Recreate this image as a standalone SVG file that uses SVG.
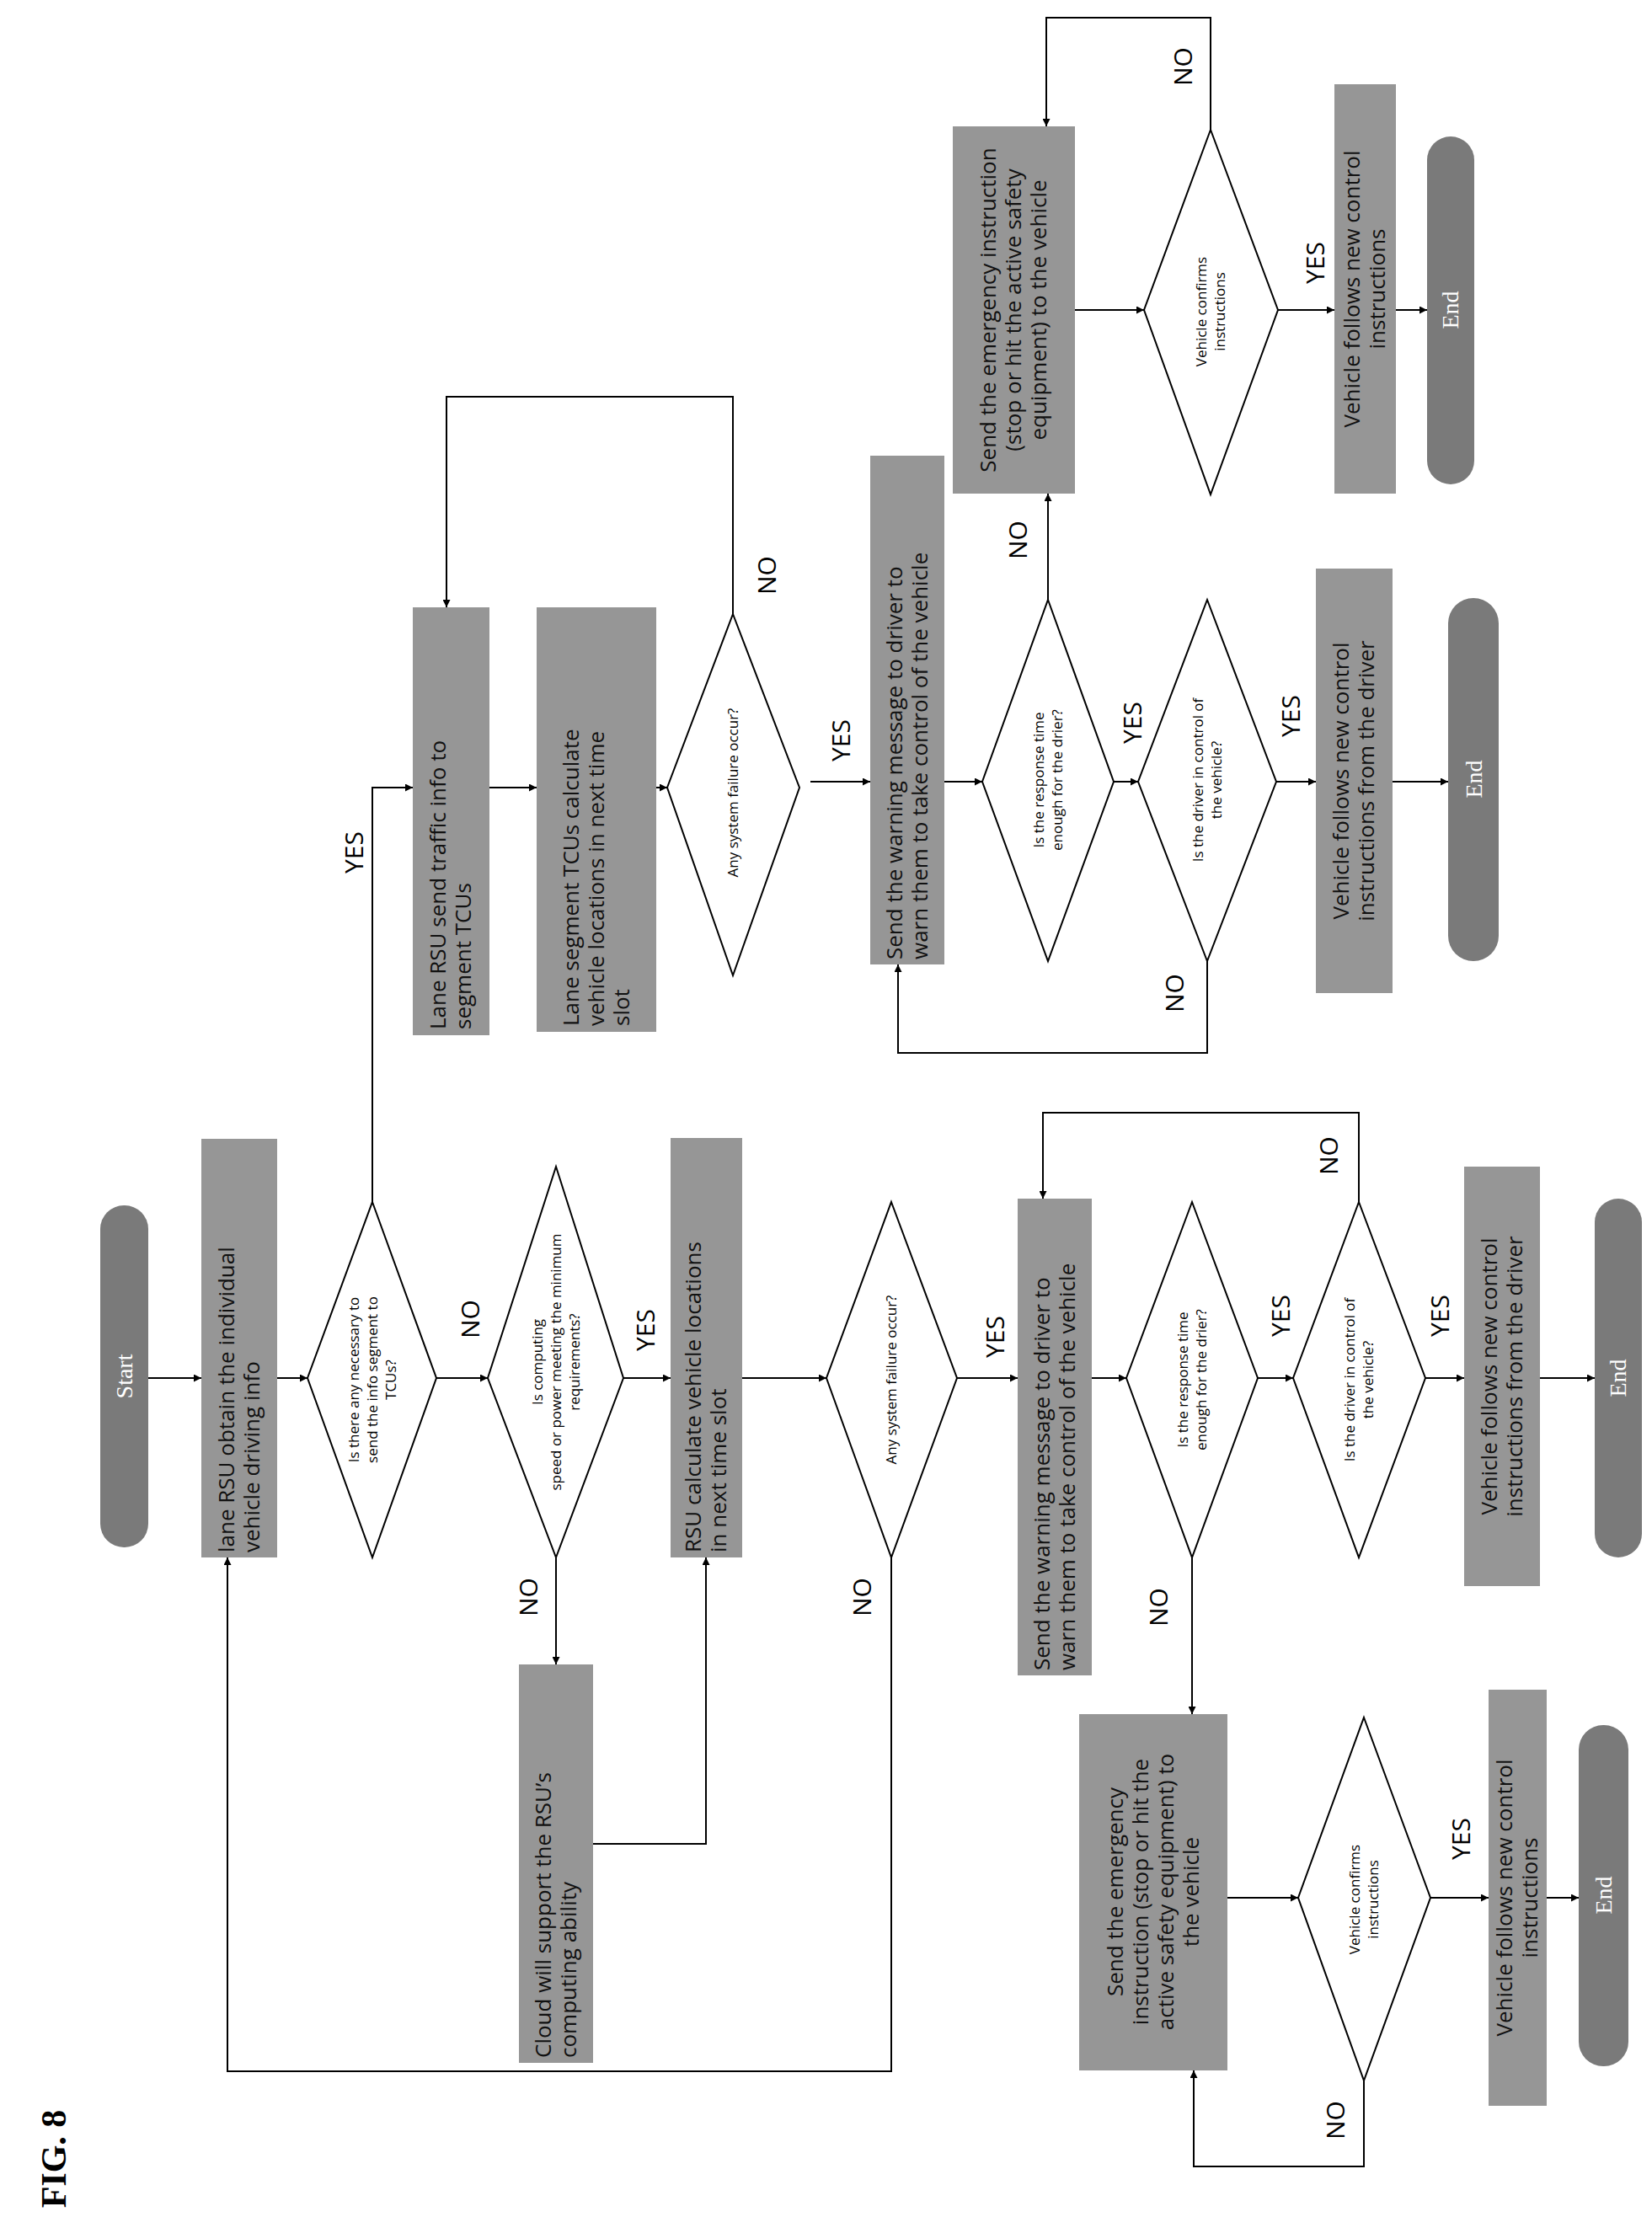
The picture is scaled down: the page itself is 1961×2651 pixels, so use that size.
<svg xmlns="http://www.w3.org/2000/svg" width="1961" height="2651" viewBox="0 0 1961 2651">
<defs>
<marker id="ar" viewBox="0 0 10 10" refX="10" refY="5" markerWidth="9" markerHeight="9" markerUnits="userSpaceOnUse" orient="auto"><path d="M0,0 L10,5 L0,10 z" fill="#000"/></marker>
<style>
.box{fill:#969696}
.pill{fill:#7a7a7a}
.dia{fill:#fff;stroke:#000;stroke-width:2}
.bt{font-family:"Open Sans","DejaVu Sans",sans-serif;font-size:26px;fill:#111}
.dt{font-family:"Open Sans","DejaVu Sans",sans-serif;font-size:17px;fill:#000;text-anchor:middle}
.pt{font-family:"Liberation Serif",serif;font-size:28px;fill:#fff;text-anchor:middle}
.lb{font-family:"Open Sans","DejaVu Sans",sans-serif;font-size:30px;fill:#000;text-anchor:middle}
.mid{text-anchor:middle}
.c{fill:none;stroke:#000;stroke-width:2}
.ca{fill:none;stroke:#000;stroke-width:2;marker-end:url(#ar)}
</style>
</defs>
<rect width="1961" height="2651" fill="#fff"/>
<text transform="translate(78,2563) rotate(-90)" style="font-family:'Liberation Serif',serif;font-size:42px;font-weight:bold" text-anchor="middle">FIG. 8</text>

<g id="connectors">
<path class="ca" d="M176,1636 H239"/>
<path class="ca" d="M329,1636 H365"/>
<path class="ca" d="M518,1636 H579"/>
<path class="ca" d="M740,1636 H796"/>
<path class="ca" d="M881,1636 H981"/>
<path class="ca" d="M1136,1636 H1208"/>
<path class="ca" d="M1296,1636 H1337"/>
<path class="ca" d="M1493,1636 H1535"/>
<path class="ca" d="M1692,1636 H1738"/>
<path class="ca" d="M1828,1636 H1893"/>
<path class="ca" d="M660,1849 V1976"/>
<path class="ca" d="M704,2189 H838 V1849"/>
<path class="ca" d="M1058,1849 V2459 H270 V1849"/>
<path class="ca" d="M1415,1849 V2035"/>
<path class="ca" d="M1613,1427 V1321 H1238 V1423"/>
<path class="ca" d="M1457,2253 H1541"/>
<path class="ca" d="M1698,2253 H1767"/>
<path class="ca" d="M1836,2253 H1874"/>
<path class="ca" d="M1619,2470 V2572 H1417 V2458"/>
<path class="ca" d="M442,1427 V935 H490"/>
<path class="ca" d="M581,935 H637"/>
<path class="ca" d="M779,935 H792"/>
<path class="ca" d="M870,729 V471 H530 V721"/>
<path class="ca" d="M962,928 H1033"/>
<path class="ca" d="M1121,928 H1166"/>
<path class="ca" d="M1322,928 H1351"/>
<path class="ca" d="M1515,928 H1562"/>
<path class="ca" d="M1653,928 H1719"/>
<path class="ca" d="M1433,1141 V1250 H1066 V1145"/>
<path class="ca" d="M1244,712 V586"/>
<path class="ca" d="M1276,368 H1358"/>
<path class="ca" d="M1517,368 H1584"/>
<path class="ca" d="M1657,368 H1694"/>
<path class="ca" d="M1437,154 V21 H1242 V150"/>
<g class="lb">
<text transform="translate(569,1566) rotate(-90)">NO</text>
<text transform="translate(777,1579) rotate(-90)">YES</text>
<text transform="translate(638,1896) rotate(-90)">NO</text>
<text transform="translate(1034,1896) rotate(-90)">NO</text>
<text transform="translate(1192,1587) rotate(-90)">YES</text>
<text transform="translate(1531,1562) rotate(-90)">YES</text>
<text transform="translate(1720,1562) rotate(-90)">YES</text>
<text transform="translate(1386,1908) rotate(-90)">NO</text>
<text transform="translate(1588,1372) rotate(-90)">NO</text>
<text transform="translate(1745,2183) rotate(-90)">YES</text>
<text transform="translate(1596,2517) rotate(-90)">NO</text>
<text transform="translate(431,1012) rotate(-90)">YES</text>
<text transform="translate(921,683) rotate(-90)">NO</text>
<text transform="translate(1009,879) rotate(-90)">YES</text>
<text transform="translate(1355,858) rotate(-90)">YES</text>
<text transform="translate(1543,850) rotate(-90)">YES</text>
<text transform="translate(1405,1179) rotate(-90)">NO</text>
<text transform="translate(1219,641) rotate(-90)">NO</text>
<text transform="translate(1415,79) rotate(-90)">NO</text>
<text transform="translate(1572,312) rotate(-90)">YES</text>
</g>
</g>

<g id="start"><rect class="pill" x="119" y="1431" width="57" height="406" rx="28"/><text class="pt" transform="translate(157,1634) rotate(-90)">Start</text></g>
<g id="lane-obtain"><rect class="box" x="239" y="1352" width="90" height="497"/>
<text class="bt" transform="translate(278,1843) rotate(-90)">lane RSU obtain the individual</text>
<text class="bt" transform="translate(308,1843) rotate(-90)">vehicle driving info</text></g>
<g id="d1"><polygon class="dia" points="442,1427 518,1636 442,1849 365,1636"/>
<text class="dt" transform="translate(426,1638) rotate(-90)">Is there any necessary to</text>
<text class="dt" transform="translate(448,1638) rotate(-90)">send the info segment to</text>
<text class="dt" transform="translate(470,1638) rotate(-90)">TCUs?</text></g>
<g id="d2"><polygon class="dia" points="660,1385 740,1636 660,1849 579,1636"/>
<text class="dt" transform="translate(644,1617) rotate(-90)">Is computing</text>
<text class="dt" transform="translate(666,1617) rotate(-90)">speed or power meeting the minimum</text>
<text class="dt" transform="translate(688,1617) rotate(-90)">requirements?</text></g>
<g id="rsu-calc"><rect class="box" x="796" y="1351" width="85" height="498"/>
<text class="bt" transform="translate(832,1843) rotate(-90)">RSU calculate vehicle locations</text>
<text class="bt" transform="translate(862,1843) rotate(-90)">in next time slot</text></g>
<g id="cloud"><rect class="box" x="616" y="1976" width="88" height="473"/>
<text class="bt" transform="translate(654,2443) rotate(-90)">Cloud will support the RSU’s</text>
<text class="bt" transform="translate(684,2443) rotate(-90)">computing ability</text></g>
<g id="d3"><polygon class="dia" points="1058,1427 1136,1636 1058,1849 981,1636"/>
<text class="dt" transform="translate(1064,1638) rotate(-90)">Any system failure occur?</text></g>
<g id="warn1"><rect class="box" x="1208" y="1423" width="88" height="566"/>
<text class="bt" transform="translate(1246,1983) rotate(-90)">Send the warning message to driver to</text>
<text class="bt" transform="translate(1276,1983) rotate(-90)">warn them to take control of the vehicle</text></g>
<g id="d4"><polygon class="dia" points="1415,1427 1493,1636 1415,1849 1337,1636"/>
<text class="dt" transform="translate(1410,1638) rotate(-90)">Is the response time</text>
<text class="dt" transform="translate(1432,1638) rotate(-90)">enough for the drier?</text></g>
<g id="d5"><polygon class="dia" points="1613,1427 1692,1636 1613,1849 1535,1636"/>
<text class="dt" transform="translate(1608,1638) rotate(-90)">Is the driver in control of</text>
<text class="dt" transform="translate(1630,1638) rotate(-90)">the vehicle?</text></g>
<g id="follows1"><rect class="box" x="1738" y="1385" width="90" height="498"/>
<text class="bt mid" transform="translate(1777,1634) rotate(-90)">Vehicle follows new control</text>
<text class="bt mid" transform="translate(1807,1634) rotate(-90)">instructions from the driver</text></g>
<g id="end1"><rect class="pill" x="1893" y="1423" width="56" height="426" rx="28"/><text class="pt" transform="translate(1930,1636) rotate(-90)">End</text></g>
<g id="emerg1"><rect class="box" x="1281" y="2035" width="176" height="423"/>
<text class="bt mid" transform="translate(1333,2246) rotate(-90)">Send the emergency</text>
<text class="bt mid" transform="translate(1363,2246) rotate(-90)">instruction (stop or hit the</text>
<text class="bt mid" transform="translate(1393,2246) rotate(-90)">active safety equipment) to</text>
<text class="bt mid" transform="translate(1423,2246) rotate(-90)">the vehicle</text></g>
<g id="d6"><polygon class="dia" points="1619,2039 1698,2253 1619,2470 1541,2253"/>
<text class="dt" transform="translate(1614,2255) rotate(-90)">Vehicle confirms</text>
<text class="dt" transform="translate(1636,2255) rotate(-90)">instructions</text></g>
<g id="follows2"><rect class="box" x="1767" y="2006" width="69" height="494"/>
<text class="bt mid" transform="translate(1795,2253) rotate(-90)">Vehicle follows new control</text>
<text class="bt mid" transform="translate(1825,2253) rotate(-90)">instructions</text></g>
<g id="end2"><rect class="pill" x="1874" y="2048" width="59" height="405" rx="29"/><text class="pt" transform="translate(1913,2250) rotate(-90)">End</text></g>

<g id="lane-send"><rect class="box" x="490" y="721" width="91" height="508"/>
<text class="bt" transform="translate(529,1222) rotate(-90)">Lane RSU send traffic info to</text>
<text class="bt" transform="translate(559,1222) rotate(-90)">segment TCUs</text></g>
<g id="lane-seg"><rect class="box" x="637" y="721" width="142" height="504"/>
<text class="bt" transform="translate(687,1218) rotate(-90)">Lane segment TCUs calculate</text>
<text class="bt" transform="translate(717,1218) rotate(-90)">vehicle locations in next time</text>
<text class="bt" transform="translate(747,1218) rotate(-90)">slot</text></g>
<g id="d7"><polygon class="dia" points="870,729 949,935 870,1158 792,935"/>
<text class="dt" transform="translate(876,941) rotate(-90)">Any system failure occur?</text></g>
<g id="warn2"><rect class="box" x="1033" y="541" width="88" height="604"/>
<text class="bt" transform="translate(1071,1139) rotate(-90)">Send the warning message to driver to</text>
<text class="bt" transform="translate(1101,1139) rotate(-90)">warn them to take control of the vehicle</text></g>
<g id="d8"><polygon class="dia" points="1244,712 1322,928 1244,1141 1166,928"/>
<text class="dt" transform="translate(1239,926) rotate(-90)">Is the response time</text>
<text class="dt" transform="translate(1261,926) rotate(-90)">enough for the drier?</text></g>
<g id="d9"><polygon class="dia" points="1433,712 1515,928 1433,1141 1351,928"/>
<text class="dt" transform="translate(1428,926) rotate(-90)">Is the driver in control of</text>
<text class="dt" transform="translate(1450,926) rotate(-90)">the vehicle?</text></g>
<g id="follows3"><rect class="box" x="1562" y="675" width="91" height="504"/>
<text class="bt mid" transform="translate(1601,927) rotate(-90)">Vehicle follows new control</text>
<text class="bt mid" transform="translate(1631,927) rotate(-90)">instructions from the driver</text></g>
<g id="end3"><rect class="pill" x="1719" y="710" width="60" height="431" rx="30"/><text class="pt" transform="translate(1759,925) rotate(-90)">End</text></g>
<g id="emerg2"><rect class="box" x="1131" y="150" width="145" height="436"/>
<text class="bt mid" transform="translate(1182,368) rotate(-90)">Send the emergency instruction</text>
<text class="bt mid" transform="translate(1212,368) rotate(-90)">(stop or hit the active safety</text>
<text class="bt mid" transform="translate(1242,368) rotate(-90)">equipment) to the vehicle</text></g>
<g id="d10"><polygon class="dia" points="1437,154 1517,368 1437,587 1358,368"/>
<text class="dt" transform="translate(1432,370) rotate(-90)">Vehicle confirms</text>
<text class="dt" transform="translate(1454,370) rotate(-90)">instructions</text></g>
<g id="follows4"><rect class="box" x="1584" y="100" width="73" height="486"/>
<text class="bt mid" transform="translate(1614,343) rotate(-90)">Vehicle follows new control</text>
<text class="bt mid" transform="translate(1644,343) rotate(-90)">instructions</text></g>
<g id="end4"><rect class="pill" x="1694" y="162" width="56" height="413" rx="28"/><text class="pt" transform="translate(1731,368) rotate(-90)">End</text></g>
</svg>
